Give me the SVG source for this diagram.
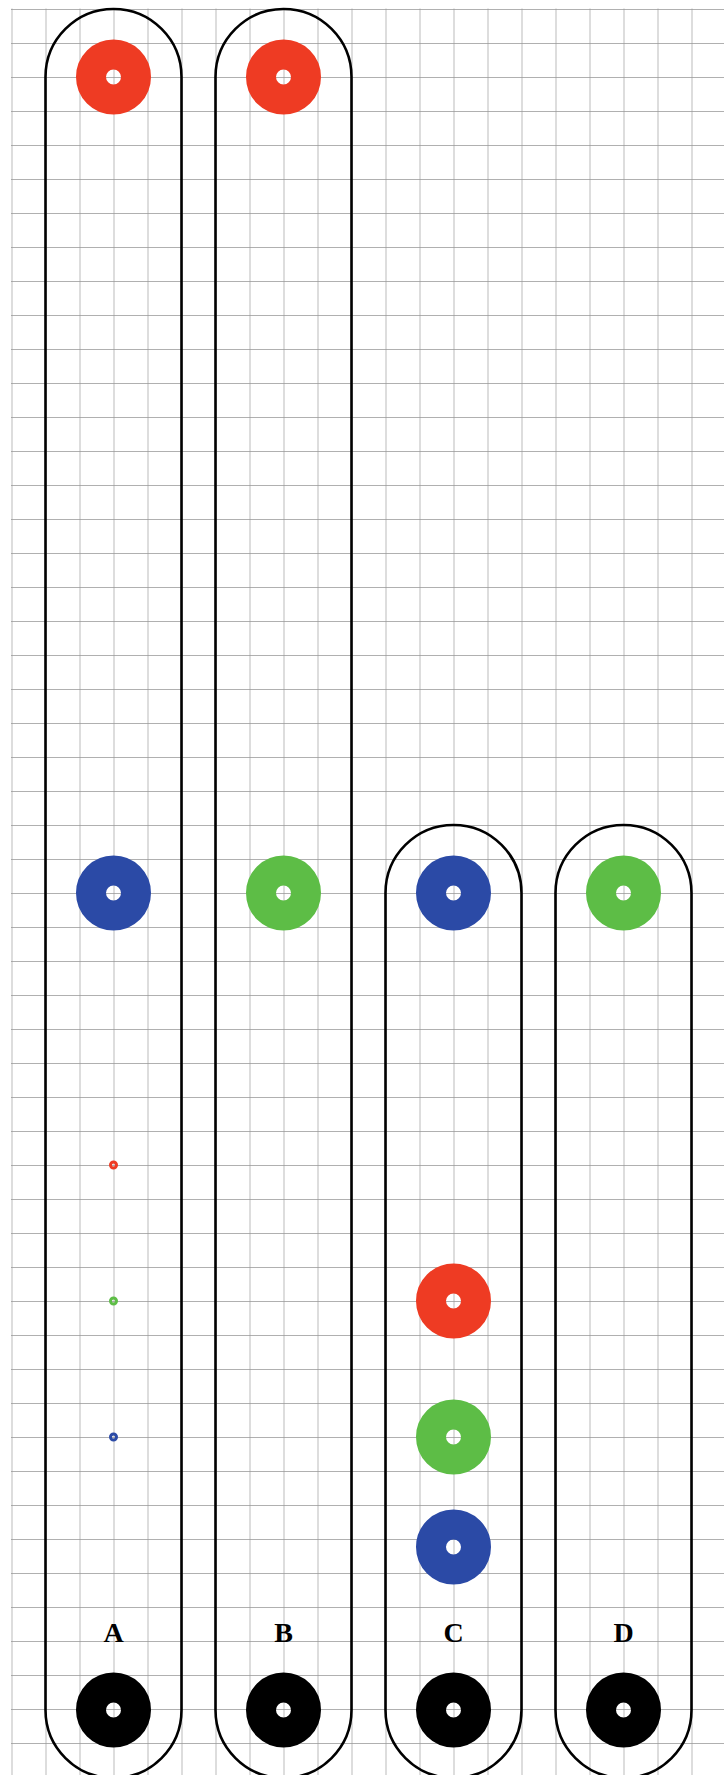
<svg xmlns="http://www.w3.org/2000/svg" width="724" height="1775" viewBox="0 0 724 1775">
<defs>
<pattern id="grid" x="11.5" y="9" width="34" height="34" patternUnits="userSpaceOnUse">
<path d="M0 0 H34 M0 0 V34" fill="none" stroke="#969696" stroke-width="1.3"/>
</pattern>
</defs>
<style>
.tube{fill:none;stroke:#000;stroke-width:2.6}
.ring{fill:none;stroke-width:30}
.dot{fill:none;stroke-width:3}
.red{stroke:#ee3b23}
.blue{stroke:#2b4aa6}
.green{stroke:#5dbd46}
.black{stroke:#000}
.lbl{font-family:"Liberation Serif","Times New Roman",serif;font-weight:bold;font-size:28px;text-anchor:middle;fill:#000}
</style>
<rect width="724" height="1775" fill="#fff"/>
<rect x="11" y="8.5" width="713" height="1766.5" fill="url(#grid)"/>
<g id="tubes">
<g id="tube-A"><path class="tube" d="M45.5 1710 V77 A68 68 0 0 1 181.5 77 V1710 A68 68 0 0 1 45.5 1710 Z"/></g>
<g id="tube-B"><path class="tube" d="M215.5 1710 V77 A68 68 0 0 1 351.5 77 V1710 A68 68 0 0 1 215.5 1710 Z"/></g>
<g id="tube-C"><path class="tube" d="M385.5 1710 V893 A68 68 0 0 1 521.5 893 V1710 A68 68 0 0 1 385.5 1710 Z"/></g>
<g id="tube-D"><path class="tube" d="M555.5 1710 V893 A68 68 0 0 1 691.5 893 V1710 A68 68 0 0 1 555.5 1710 Z"/></g>
</g>
<g id="spots">
<g id="A-red-top"><circle class="ring red" cx="113.5" cy="77" r="22.5"/></g>
<g id="B-red-top"><circle class="ring red" cx="283.5" cy="77" r="22.5"/></g>
<g id="A-blue"><circle class="ring blue" cx="113.5" cy="893" r="22.5"/></g>
<g id="B-green"><circle class="ring green" cx="283.5" cy="893" r="22.5"/></g>
<g id="C-blue"><circle class="ring blue" cx="453.5" cy="893" r="22.5"/></g>
<g id="D-green"><circle class="ring green" cx="623.5" cy="893" r="22.5"/></g>
<g id="A-red-small"><circle class="dot red" cx="113.5" cy="1165" r="3"/></g>
<g id="A-green-small"><circle class="dot green" cx="113.5" cy="1301" r="3"/></g>
<g id="A-blue-small"><circle class="dot blue" cx="113.5" cy="1437" r="3"/></g>
<g id="C-red"><circle class="ring red" cx="453.5" cy="1301" r="22.5"/></g>
<g id="C-green"><circle class="ring green" cx="453.5" cy="1437" r="22.5"/></g>
<g id="C-blue-low"><circle class="ring blue" cx="453.5" cy="1547" r="22.5"/></g>
<g id="A-black"><circle class="ring black" cx="113.5" cy="1710" r="22.5"/></g>
<g id="B-black"><circle class="ring black" cx="283.5" cy="1710" r="22.5"/></g>
<g id="C-black"><circle class="ring black" cx="453.5" cy="1710" r="22.5"/></g>
<g id="D-black"><circle class="ring black" cx="623.5" cy="1710" r="22.5"/></g>
</g>
<g id="labels">
<text class="lbl" x="113.5" y="1642">A</text>
<text class="lbl" x="283.5" y="1642">B</text>
<text class="lbl" x="453.5" y="1642">C</text>
<text class="lbl" x="623.5" y="1642">D</text>
</g>
</svg>
